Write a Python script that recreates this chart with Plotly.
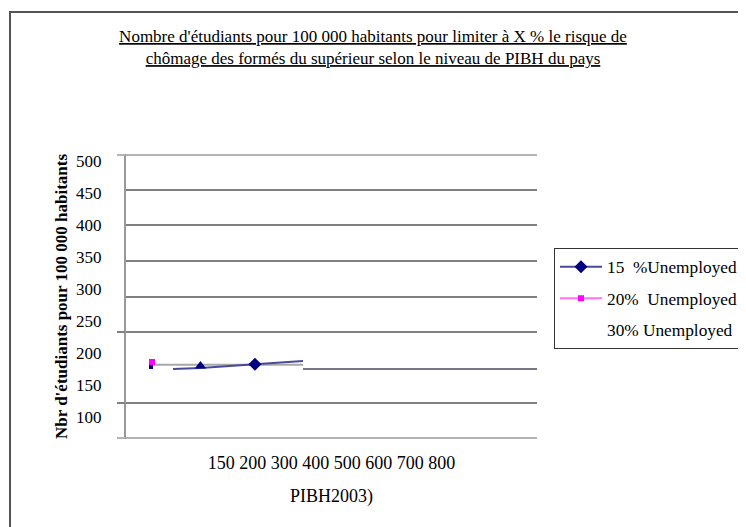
import plotly.graph_objects as go

# ---- data ----
TITLE_LINES = ["Nombre d'étudiants pour 100 000 habitants pour limiter à X % le risque de",
               "chômage des formés du supérieur selon le niveau de PIBH du pays"]
Y_TITLE = "Nbr d'étudiants pour 100 000 habitants"
X_TITLE = "PIBH2003)"
X_TICK_VALS = [500]
X_TICK_TEXT = ["150 200 300 400 500 600 700 800"]
Y_TICK_VALS = [100, 150, 200, 250, 300, 350, 400, 450, 500]
SERIES_NAMES = ["15\u00a0 %Unemployed", "20%\u00a0 Unemployed", "30% Unemployed"]

# 15 % series (navy line)
pib_15_line = [191.5, 245.0, 351.0, 444.5]
etu_15_line = [175.8, 177.3, 183.1, 188.3]
pib_15_diamond = [351.0]
etu_15_diamond = [183.1]
pib_15_start = [148.7]
etu_15_start = [178.9]
pib_tri = [245.0]
etu_tri = [180.5]
# 20 % series (magenta)
pib_20 = [150.6]
etu_20 = [186.7]
# grey segments
pib_grey_light = [147.0, 444.5]
etu_grey_light = [182.5, 182.5]
pib_grey_dark = [444.5, 900.0]
etu_grey_dark = [175.8, 175.8]

FONT = "'Liberation Serif', 'Times New Roman', Times, serif"
NAVY = "#000080"
NAVY_LINE = "#4a4a9c"

W, H = 738, 519          # page body has an 8px margin
L, T = 118, 146
PW, PH = 411, 285

fig = go.Figure()

fig.add_trace(go.Scatter(x=pib_grey_light, y=etu_grey_light, mode="lines",
                         line=dict(color="#a8a8a8", width=2), showlegend=False, hoverinfo="skip"))
fig.add_trace(go.Scatter(x=pib_grey_dark, y=etu_grey_dark, mode="lines",
                         line=dict(color="#7a7484", width=2), showlegend=False, hoverinfo="skip"))
fig.add_trace(go.Scatter(x=pib_15_line, y=etu_15_line, mode="lines",
                         line=dict(color=NAVY_LINE, width=2), showlegend=False))
fig.add_trace(go.Scatter(x=pib_tri, y=etu_tri, mode="markers",
                         marker=dict(symbol="triangle-up", size=10, color=NAVY), showlegend=False))
fig.add_trace(go.Scatter(x=pib_15_start, y=etu_15_start, mode="markers",
                         marker=dict(symbol="square", size=4, color=NAVY), showlegend=False))
fig.add_trace(go.Scatter(x=pib_15_diamond, y=etu_15_diamond, mode="lines+markers",
                         name=SERIES_NAMES[0], legendgroup="a",
                         line=dict(color=NAVY_LINE, width=2),
                         marker=dict(symbol="diamond", size=10, color=NAVY)))
fig.add_trace(go.Scatter(x=pib_20, y=etu_20, mode="lines+markers",
                         name=SERIES_NAMES[1], legendgroup="b",
                         line=dict(color="#ff70ff", width=2),
                         marker=dict(symbol="square", size=6, color="#ff00ff")))
fig.add_trace(go.Scatter(x=[None], y=[None], mode="lines",
                         name=SERIES_NAMES[2], legendgroup="c",
                         line=dict(color="rgba(0,0,0,0)", width=0)))

grid_common = dict(overlaying="y", anchor="x", side="left",
                   showticklabels=False, zeroline=False, showline=False,
                   gridwidth=2, tickwidth=2, ticklen=8)

fx = lambda px: (px - 8 - L) / PW
fy = lambda py: (T + PH - (py - 8)) / PH

fig.update_layout(
    width=W, height=H,
    margin=dict(l=L, r=W - L - PW, t=T, b=H - T - PH, autoexpand=False),
    paper_bgcolor="white", plot_bgcolor="white",
    font=dict(family=FONT, color="black"),
    title=dict(text="<br>".join(TITLE_LINES), x=(373 - 8) / W, xanchor="center",
               xref="container", y=1 - 34 / H, yanchor="top",
               font=dict(family=FONT, size=17, color="black", lineposition="under")),
    xaxis=dict(range=[100, 900], tickvals=X_TICK_VALS, ticktext=X_TICK_TEXT,
               showgrid=False, zeroline=False, showline=False, ticks="",
               tickfont=dict(family=FONT, size=18, color="black"),
               ticklabelstandoff=11,
               title=dict(text=X_TITLE, font=dict(family=FONT, size=18, color="black"),
                          standoff=17)),
    yaxis=dict(range=[66.4, 511.7], tickvals=Y_TICK_VALS,
               showgrid=False, zeroline=False, showline=True,
               linecolor="#999999", linewidth=2, ticks="",
               ticklabelstandoff=19,
               tickfont=dict(family=FONT, size=17, color="black"),
               title=dict(text="<b>" + Y_TITLE + "</b>",
                          font=dict(family=FONT, size=17, color="black"), standoff=4)),
    yaxis2=dict(range=[0, 8], tickvals=[4, 5, 6, 7], showgrid=True, gridcolor="#808080",
                ticks="", **grid_common),
    yaxis3=dict(range=[0, 8], tickvals=[1, 3], showgrid=True, gridcolor="#808080",
                ticks="outside", tickcolor="#808080", **grid_common),
    yaxis4=dict(range=[-0.03, 8.03], tickvals=[0, 8], showgrid=True, gridcolor="#b4b4b4",
                ticks="outside", tickcolor="#b4b4b4", **grid_common),
    legend=dict(x=fx(554), y=fy(248), xanchor="left", yanchor="top",
                bordercolor="#333333", borderwidth=1, bgcolor="white",
                font=dict(family=FONT, size=17.3, color="black"),
                itemwidth=42,
                traceorder="grouped", tracegroupgap=6),
    shapes=[dict(type="path", xref="paper", yref="paper",
                 path="M {x0},{y0} L {x0},{y1} L {x1},{y1}".format(
                     x0=fx(10), y0=fy(560), y1=fy(12), x1=fx(800)),
                 line=dict(color="#555555", width=2))],
)

# dummy traces so the overlay grid axes are rendered
for ax in ["y2", "y3", "y4"]:
    fig.add_trace(go.Scatter(x=[None], y=[None], yaxis=ax, showlegend=False, hoverinfo="skip"))

fig.write_html("out.html")
